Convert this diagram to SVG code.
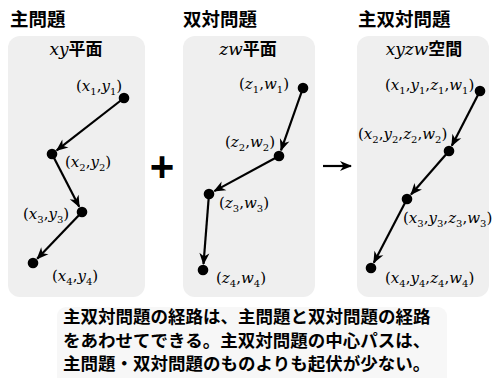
<svg xmlns="http://www.w3.org/2000/svg" width="493" height="378" viewBox="0 0 493 378">
<style>
.title{font-family:"Noto Sans CJK JP","Noto Sans",sans-serif;font-weight:bold;font-size:18.5px;fill:#000}
.panel{fill:#efefef}
.head{font-size:17px;text-anchor:middle}
.mi{font-family:"DejaVu Serif","Liberation Serif",serif;font-style:italic;font-weight:normal}
.cj{font-family:"Noto Sans CJK JP",sans-serif;font-weight:bold}
.lab{font-family:"DejaVu Serif","Liberation Serif",serif;font-size:15px;fill:#000}
.v{font-style:italic}
.s{font-size:10px}
.dot{fill:#000}
.arr{stroke:#000;stroke-width:2.2;fill:none;marker-end:url(#ah)}
.note{font-family:"Noto Sans CJK JP",sans-serif;font-weight:bold;font-size:17.5px;fill:#000}
</style>
<defs>
<marker id="ah" markerUnits="userSpaceOnUse" viewBox="-12 -6 14 12" refX="0" refY="0" markerWidth="14" markerHeight="12" orient="auto">
<path d="M1,0 L-11,-5 L-7.5,0 L-11,5 Z" fill="#000"/>
</marker>
</defs>
<rect width="493" height="378" fill="#fff"/>

<g id="title-primal"><text class="title" x="10" y="26">主問題</text></g>
<g id="title-dual"><text class="title" x="183" y="26">双対問題</text></g>
<g id="title-pd"><text class="title" x="358" y="26">主双対問題</text></g>

<g id="panel-xy">
<rect class="panel" x="8" y="36" width="137" height="261" rx="12"/>
<text class="head" x="76" y="55"><tspan class="mi">xy</tspan><tspan class="cj">平面</tspan></text>
</g>
<g id="panel-zw">
<rect class="panel" x="183" y="36" width="132" height="261" rx="12"/>
<text class="head" x="248" y="55"><tspan class="mi">zw</tspan><tspan class="cj">平面</tspan></text>
</g>
<g id="panel-xyzw">
<rect class="panel" x="357" y="36" width="132" height="261" rx="12"/>
<text class="head" x="424" y="55"><tspan class="mi">xyzw</tspan><tspan class="cj">空間</tspan></text>
</g>

<g id="connectors">
<line class="arr" x1="124" y1="98" x2="56.7" y2="150.3"/>
<line class="arr" x1="52" y1="154" x2="79.2" y2="206.7"/>
<line class="arr" x1="82" y1="212" x2="37.2" y2="258.7"/>
<line class="arr" x1="303" y1="88" x2="281" y2="150.3"/>
<line class="arr" x1="279" y1="156" x2="214.3" y2="191.1"/>
<line class="arr" x1="209" y1="194" x2="203.5" y2="264"/>
<line class="arr" x1="480" y1="91" x2="451.8" y2="145.7"/>
<line class="arr" x1="449" y1="151" x2="411" y2="194.5"/>
<line class="arr" x1="407" y1="199" x2="373.8" y2="262.7"/>
<line class="arr" x1="323" y1="166" x2="351" y2="166"/>
</g>

<g id="plus"><text x="162" y="181" text-anchor="middle" font-family="Liberation Sans,sans-serif" font-weight="bold" font-size="42">+</text></g>

<g id="p1">
<circle class="dot" cx="124" cy="98" r="5.3"/>
<text class="lab" x="76" y="91">(<tspan class="v">x</tspan><tspan class="s" dy="4">1</tspan><tspan dy="-4">,</tspan><tspan class="v">y</tspan><tspan class="s" dy="4">1</tspan><tspan dy="-4">)</tspan></text>
</g>
<g id="p2">
<circle class="dot" cx="52" cy="154" r="5.3"/>
<text class="lab" x="65" y="167">(<tspan class="v">x</tspan><tspan class="s" dy="4">2</tspan><tspan dy="-4">,</tspan><tspan class="v">y</tspan><tspan class="s" dy="4">2</tspan><tspan dy="-4">)</tspan></text>
</g>
<g id="p3">
<circle class="dot" cx="82" cy="212" r="5.3"/>
<text class="lab" x="23" y="219">(<tspan class="v">x</tspan><tspan class="s" dy="4">3</tspan><tspan dy="-4">,</tspan><tspan class="v">y</tspan><tspan class="s" dy="4">3</tspan><tspan dy="-4">)</tspan></text>
</g>
<g id="p4">
<circle class="dot" cx="33" cy="263" r="5.3"/>
<text class="lab" x="52" y="281">(<tspan class="v">x</tspan><tspan class="s" dy="4">4</tspan><tspan dy="-4">,</tspan><tspan class="v">y</tspan><tspan class="s" dy="4">4</tspan><tspan dy="-4">)</tspan></text>
</g>

<g id="q1">
<circle class="dot" cx="303" cy="88" r="5.3"/>
<text class="lab" x="239" y="89">(<tspan class="v">z</tspan><tspan class="s" dy="4">1</tspan><tspan dy="-4">,</tspan><tspan class="v">w</tspan><tspan class="s" dy="4">1</tspan><tspan dy="-4">)</tspan></text>
</g>
<g id="q2">
<circle class="dot" cx="279" cy="156" r="5.3"/>
<text class="lab" x="225" y="147">(<tspan class="v">z</tspan><tspan class="s" dy="4">2</tspan><tspan dy="-4">,</tspan><tspan class="v">w</tspan><tspan class="s" dy="4">2</tspan><tspan dy="-4">)</tspan></text>
</g>
<g id="q3">
<circle class="dot" cx="209" cy="194" r="5.3"/>
<text class="lab" x="219" y="208">(<tspan class="v">z</tspan><tspan class="s" dy="4">3</tspan><tspan dy="-4">,</tspan><tspan class="v">w</tspan><tspan class="s" dy="4">3</tspan><tspan dy="-4">)</tspan></text>
</g>
<g id="q4">
<circle class="dot" cx="203" cy="270" r="5.3"/>
<text class="lab" x="216" y="283">(<tspan class="v">z</tspan><tspan class="s" dy="4">4</tspan><tspan dy="-4">,</tspan><tspan class="v">w</tspan><tspan class="s" dy="4">4</tspan><tspan dy="-4">)</tspan></text>
</g>

<g id="r1">
<circle class="dot" cx="480" cy="91" r="5.3"/>
<text class="lab" x="385" y="90">(<tspan class="v">x</tspan><tspan class="s" dy="4">1</tspan><tspan dy="-4">,</tspan><tspan class="v">y</tspan><tspan class="s" dy="4">1</tspan><tspan dy="-4">,</tspan><tspan class="v">z</tspan><tspan class="s" dy="4">1</tspan><tspan dy="-4">,</tspan><tspan class="v">w</tspan><tspan class="s" dy="4">1</tspan><tspan dy="-4">)</tspan></text>
</g>
<g id="r2">
<circle class="dot" cx="449" cy="151" r="5.3"/>
<text class="lab" x="358" y="139">(<tspan class="v">x</tspan><tspan class="s" dy="4">2</tspan><tspan dy="-4">,</tspan><tspan class="v">y</tspan><tspan class="s" dy="4">2</tspan><tspan dy="-4">,</tspan><tspan class="v">z</tspan><tspan class="s" dy="4">2</tspan><tspan dy="-4">,</tspan><tspan class="v">w</tspan><tspan class="s" dy="4">2</tspan><tspan dy="-4">)</tspan></text>
</g>
<g id="r3">
<circle class="dot" cx="407" cy="199" r="5.3"/>
<text class="lab" x="403" y="223">(<tspan class="v">x</tspan><tspan class="s" dy="4">3</tspan><tspan dy="-4">,</tspan><tspan class="v">y</tspan><tspan class="s" dy="4">3</tspan><tspan dy="-4">,</tspan><tspan class="v">z</tspan><tspan class="s" dy="4">3</tspan><tspan dy="-4">,</tspan><tspan class="v">w</tspan><tspan class="s" dy="4">3</tspan><tspan dy="-4">)</tspan></text>
</g>
<g id="r4">
<circle class="dot" cx="371" cy="268" r="5.3"/>
<text class="lab" x="385" y="283">(<tspan class="v">x</tspan><tspan class="s" dy="4">4</tspan><tspan dy="-4">,</tspan><tspan class="v">y</tspan><tspan class="s" dy="4">4</tspan><tspan dy="-4">,</tspan><tspan class="v">z</tspan><tspan class="s" dy="4">4</tspan><tspan dy="-4">,</tspan><tspan class="v">w</tspan><tspan class="s" dy="4">4</tspan><tspan dy="-4">)</tspan></text>
</g>

<g id="note">
<rect x="57" y="307" width="390" height="80" rx="9" fill="#f7f7f7"/>
<text class="note" x="63" y="323">主双対問題の経路は、主問題と双対問題の経路</text>
<text class="note" x="63" y="346.5">をあわせてできる。主双対問題の中心パスは、</text>
<text class="note" x="63" y="370">主問題・双対問題のものよりも起伏が少ない。</text>
</g>
</svg>
